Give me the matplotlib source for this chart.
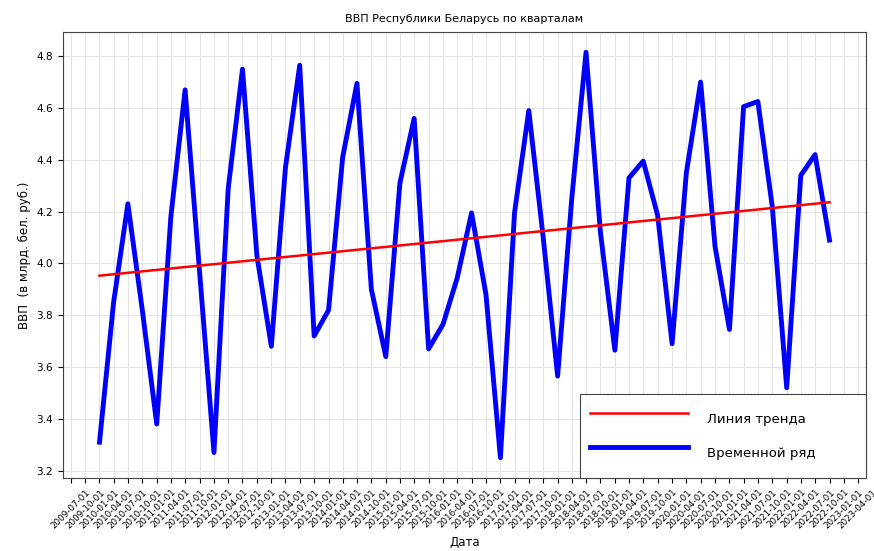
import numpy as np
import pandas as pd
import matplotlib
matplotlib.use("Agg")
import matplotlib.pyplot as plt
import matplotlib.dates as mdates

# Data: quarterly GDP (bln BYN)
start_date = "2010-01-01"
gdp = [3.31, 3.85, 4.23, 3.82, 3.38, 4.18, 4.67, 3.97,
       3.27, 4.29, 4.75, 4.03, 3.68, 4.37, 4.765, 3.72,
       3.82, 4.41, 4.695, 3.90, 3.64, 4.31, 4.56, 3.67,
       3.765, 3.945, 4.195, 3.88, 3.25, 4.195, 4.59, 4.10,
       3.565, 4.25, 4.815, 4.12, 3.665, 4.33, 4.395, 4.185,
       3.69, 4.35, 4.70, 4.065, 3.745, 4.605, 4.625, 4.22,
       3.52, 4.34, 4.42, 4.09]
dates = pd.date_range(start_date, periods=len(gdp), freq="QS")

title = "ВВП Республики Беларусь по кварталам"
xlabel = "Дата"
ylabel = "ВВП  (в млрд. бел. руб.)"
trend_label = "Линия тренда"
series_label = "Временной ряд"

# linear trend from the data
idx = np.arange(len(gdp))
k, b = np.polyfit(idx, gdp, 1)
trend = k * idx + b

fig = plt.figure(figsize=(8.74, 5.51), dpi=100)
ax = fig.add_axes([63/874, 1-478/551, (866-63)/874, (478-32)/551])

ax.plot(dates, trend, color="red", lw=1.8, label=trend_label, zorder=3)
ax.plot(dates, gdp, color="blue", lw=3.5, label=series_label, zorder=2)

ax.xaxis.set_major_locator(mdates.MonthLocator(bymonth=[1, 4, 7, 10]))
ax.xaxis.set_major_formatter(mdates.DateFormatter("%Y-%m-%d"))
plt.setp(ax.get_xticklabels(), rotation=45, fontsize=6.3)
ax.tick_params(axis="y", labelsize=7.5)

ax.grid(True, color="#e3e3e3", lw=0.7)
ax.set_title(title, fontsize=8, pad=7)
ax.set_xlabel(xlabel, fontsize=8.5)
ax.set_ylabel(ylabel, fontsize=8.5)
for s in ax.spines.values():
    s.set_color("#444444")

x0 = (580 - 63) / 803
leg = ax.legend(loc="lower left", bbox_to_anchor=(x0, 0, 1 - x0, 0.19),
                mode="expand", borderaxespad=0, fancybox=False,
                fontsize=9.5, handlelength=7.4, handleheight=3.2,
                labelspacing=0.25, borderpad=0.75, handletextpad=1.5,
                framealpha=1, edgecolor="#444444")
leg.get_frame().set_linewidth(0.8)

fig.savefig("out.png", dpi=100)
